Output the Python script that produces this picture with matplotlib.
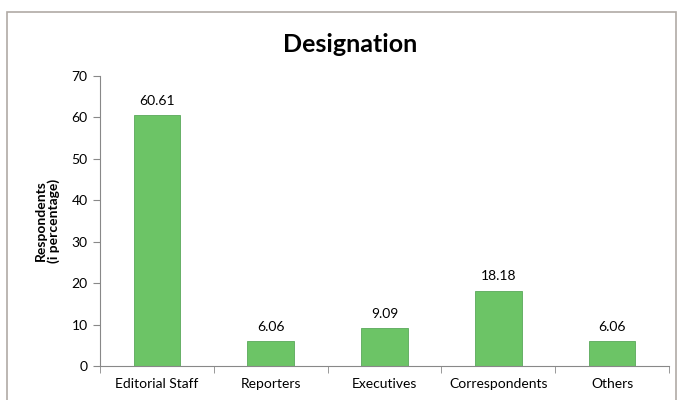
import matplotlib.pyplot as plt
from matplotlib.patches import Rectangle

categories = ["Editorial Staff", "Reporters", "Executives", "Correspondents", "Others"]
values = [60.61, 6.06, 9.09, 18.18, 6.06]
y_ticks = [0, 10, 20, 30, 40, 50, 60, 70]

plt.rcParams['font.family'] = ['Lato', 'DejaVu Sans']

fig = plt.figure(figsize=(6.8, 4.0), dpi=100)
fig.patch.set_facecolor('white')

# outer chart frame (Excel style)
fig.patches.append(Rectangle((7 / 680, -0.05), 669 / 680, 1.05 - 12 / 400,
                             transform=fig.transFigure, fill=False,
                             edgecolor='#b0aaa5', linewidth=1.2))

ax = fig.add_axes([100 / 680, 34 / 400, 569 / 680, 290 / 400])
x = range(len(categories))
bars = ax.bar(x, values, width=0.41, color='#6cc466', edgecolor='#5aa85a', linewidth=0.6)

for xi, v in zip(x, values):
    ax.annotate(f"{v:.2f}", (xi, v), xytext=(0, 6), textcoords='offset points',
                ha='center', va='bottom', fontsize=10)

ax.set_xlim(-0.5, len(categories) - 0.5)
ax.set_ylim(0, 70)
ax.set_yticks(y_ticks)
ax.set_xticks(x)
ax.set_xticklabels(categories)
ax.set_xticks([i - 0.5 for i in range(len(categories) + 1)], minor=True)
ax.tick_params(axis='x', which='major', length=0, pad=9, labelsize=10)
ax.tick_params(axis='x', which='minor', length=5, color='#888888', direction='out')
ax.tick_params(axis='y', length=5, color='#888888', labelsize=10, pad=4)

for s in ['top', 'right']:
    ax.spines[s].set_visible(False)
for s in ['left', 'bottom']:
    ax.spines[s].set_color('#888888')

ax.set_ylabel("Respondents\n(i percentage)", fontsize=10, fontweight='bold', labelpad=8,
              linespacing=1.05)
fig.text(350 / 680, 1 - 45 / 400, "Designation", ha='center', va='center',
         fontsize=18, fontweight='bold')

fig.savefig("out.png", dpi=100)
